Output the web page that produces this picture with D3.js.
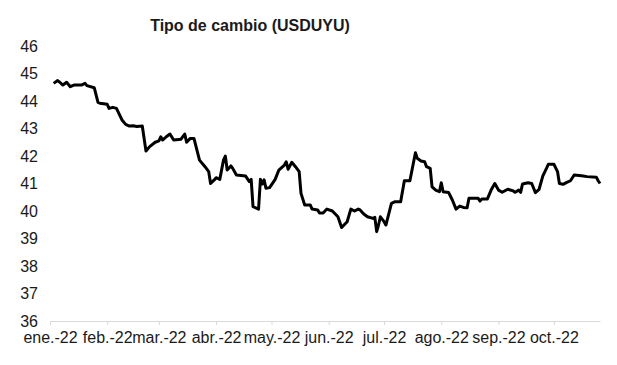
<!DOCTYPE html>
<html>
<head>
<meta charset="utf-8">
<script src="https://cdn.jsdelivr.net/npm/d3@7"></script>
<style>
  body { margin: 0; background: #fff; }
  text { font-family: "Liberation Sans", Arial, sans-serif; }
</style>
</head>
<body>
<div id="chart"></div>
<script>
const title = "Tipo de cambio (USDUYU)";

const dates = [
  "2022-01-03","2022-01-05","2022-01-06","2022-01-08","2022-01-10","2022-01-12","2022-01-14","2022-01-18","2022-01-20","2022-01-21",
  "2022-01-25","2022-01-27","2022-01-28","2022-02-01","2022-02-02","2022-02-04","2022-02-06","2022-02-09","2022-02-11","2022-02-13",
  "2022-02-15","2022-02-17","2022-02-20","2022-02-22","2022-02-24","2022-02-27","2022-03-01","2022-03-02","2022-03-03","2022-03-05",
  "2022-03-07","2022-03-09","2022-03-13","2022-03-15","2022-03-16","2022-03-18","2022-03-20","2022-03-23","2022-03-26","2022-03-28",
  "2022-03-29","2022-03-31","2022-04-01","2022-04-03","2022-04-05","2022-04-06","2022-04-07","2022-04-09","2022-04-10","2022-04-12",
  "2022-04-17","2022-04-19","2022-04-20","2022-04-21","2022-04-24","2022-04-25","2022-04-26","2022-04-27","2022-04-28","2022-04-30",
  "2022-05-03","2022-05-05","2022-05-08","2022-05-09","2022-05-10","2022-05-12","2022-05-14","2022-05-16","2022-05-17","2022-05-19",
  "2022-05-22","2022-05-23","2022-05-26","2022-05-27","2022-05-29","2022-05-31","2022-06-03","2022-06-06","2022-06-08","2022-06-11",
  "2022-06-13","2022-06-15","2022-06-17","2022-06-18","2022-06-20","2022-06-22","2022-06-25","2022-06-26","2022-06-27","2022-06-28",
  "2022-06-29","2022-07-01","2022-07-02","2022-07-05","2022-07-07","2022-07-10","2022-07-12","2022-07-15","2022-07-18","2022-07-19",
  "2022-07-21","2022-07-23","2022-07-24","2022-07-26","2022-07-27","2022-07-29","2022-07-31","2022-08-01","2022-08-02","2022-08-05",
  "2022-08-07","2022-08-09","2022-08-11","2022-08-13","2022-08-15","2022-08-16","2022-08-21","2022-08-22","2022-08-23","2022-08-26",
  "2022-08-28","2022-08-30","2022-09-01","2022-09-03","2022-09-06","2022-09-09","2022-09-10","2022-09-12","2022-09-13","2022-09-14",
  "2022-09-17","2022-09-19","2022-09-21","2022-09-23","2022-09-25","2022-09-27","2022-09-28","2022-10-01","2022-10-03","2022-10-04",
  "2022-10-06","2022-10-08","2022-10-10","2022-10-12","2022-10-16","2022-10-19","2022-10-24","2022-10-25","2022-10-26"
];

const values = [
  44.64,44.74,44.70,44.58,44.68,44.52,44.58,44.58,44.64,44.56,
  44.48,43.95,43.92,43.88,43.73,43.77,43.73,43.31,43.15,43.09,
  43.10,43.07,43.09,42.18,42.34,42.50,42.55,42.70,42.58,42.70,
  42.80,42.58,42.61,42.80,42.50,42.64,42.64,41.85,41.61,41.43,
  41.00,41.13,41.21,41.15,41.85,42.00,41.49,41.64,41.55,41.31,
  41.27,41.07,41.15,40.16,40.07,41.15,40.98,41.13,40.83,40.85,
  41.15,41.49,41.67,41.79,41.52,41.77,41.61,41.43,40.64,40.22,
  40.22,40.07,40.04,39.93,39.93,40.07,40.00,39.79,39.40,39.61,
  40.07,40.00,40.07,40.04,39.89,39.79,39.73,39.77,39.25,39.49,
  39.79,39.61,39.49,40.28,40.34,40.34,41.10,41.10,42.12,41.92,
  41.82,41.79,41.61,41.55,40.88,40.76,40.70,41.03,40.70,40.67,
  40.40,40.07,40.18,40.13,40.12,40.46,40.46,40.36,40.44,40.44,
  40.76,41.00,40.76,40.68,40.79,40.73,40.68,40.76,40.68,40.98,
  41.03,41.00,40.67,40.79,41.27,41.55,41.70,41.70,41.43,41.00,
  40.97,41.04,41.10,41.31,41.28,41.25,41.23,41.10,41.00
];

const yTicks = [36, 37, 38, 39, 40, 41, 42, 43, 44, 45, 46];
const monthTicks = ["2022-01-01","2022-02-01","2022-03-01","2022-04-01","2022-05-01","2022-06-01","2022-07-01","2022-08-01","2022-09-01","2022-10-01"];
const monthLabels = ["ene.-22","feb.-22","mar.-22","abr.-22","may.-22","jun.-22","jul.-22","ago.-22","sep.-22","oct.-22"];

const width = 617, height = 365;
const margin = {left: 50, right: 17, top: 46, bottom: 44};

const parse = d3.timeParse("%Y-%m-%d");
const data = dates.map((d, i) => ({date: parse(d), value: values[i]}));
const tickDates = monthTicks.map(parse);

const svg = d3.select("#chart")
  .append("svg")
  .attr("width", width)
  .attr("height", height);

const x = d3.scaleTime()
  .domain([parse("2022-01-01"), parse("2022-10-26")])
  .range([margin.left, width - margin.right]);

const y = d3.scaleLinear()
  .domain([36, 46])
  .range([height - margin.bottom, margin.top]);

// title
svg.append("text")
  .attr("x", 250)
  .attr("y", 31)
  .attr("text-anchor", "middle")
  .attr("font-size", 16)
  .attr("font-weight", "bold")
  .attr("fill", "#1a1a1a")
  .text(title);

// y axis, labels only
const yAxis = svg.append("g")
  .attr("transform", `translate(${margin.left - 12},0)`)
  .call(d3.axisLeft(y).tickValues(yTicks).tickSize(0).tickPadding(0).tickFormat(d3.format("d")));
yAxis.select(".domain").remove();
yAxis.selectAll("text")
  .attr("font-size", 16)
  .attr("fill", "#1a1a1a")
  .style("font-family", "'Liberation Sans', Arial, sans-serif");

// x axis
const xAxis = svg.append("g")
  .attr("transform", `translate(0,${height - margin.bottom})`)
  .call(d3.axisBottom(x)
    .tickValues(tickDates)
    .tickSize(4)
    .tickPadding(7)
    .tickSizeOuter(0)
    .tickFormat((d, i) => monthLabels[i]));
xAxis.select(".domain").attr("stroke", "#d9d9d9").attr("stroke-width", 1);
xAxis.selectAll(".tick line").attr("stroke", "#d9d9d9");
xAxis.selectAll("text")
  .attr("font-size", 16)
  .attr("fill", "#1a1a1a")
  .style("font-family", "'Liberation Sans', Arial, sans-serif");

// line
const line = d3.line()
  .x(d => x(d.date))
  .y(d => y(d.value));

svg.append("path")
  .datum(data)
  .attr("fill", "none")
  .attr("stroke", "#000")
  .attr("stroke-width", 3)
  .attr("stroke-linejoin", "round")
  .attr("d", line);
</script>
</body>
</html>
